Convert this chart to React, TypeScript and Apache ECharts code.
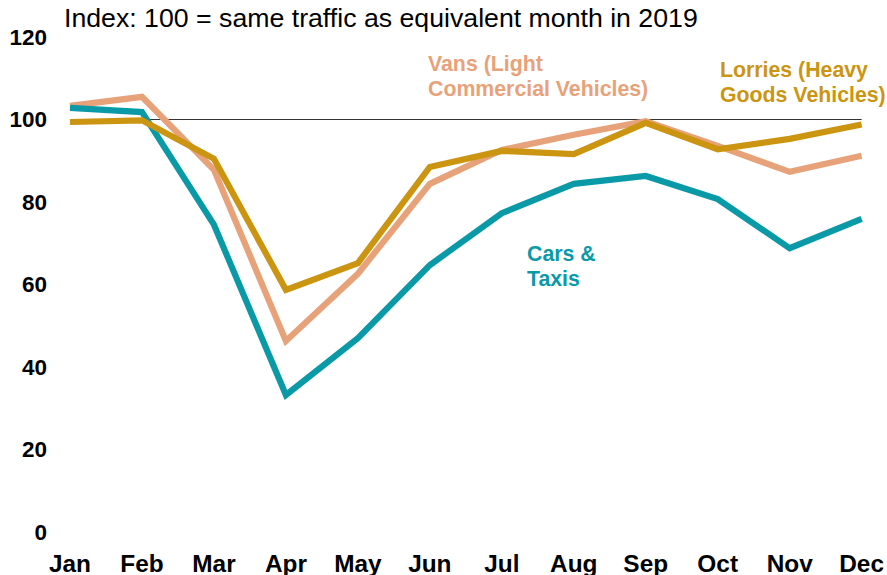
import React, { useEffect, useRef } from "react";
import * as echarts from "echarts";

const months = ["Jan", "Feb", "Mar", "Apr", "May", "Jun", "Jul", "Aug", "Sep", "Oct", "Nov", "Dec"];
const carsTaxis = [102.8, 101.8, 74.5, 33.2, 47, 64.7, 77.3, 84.4, 86.3, 80.7, 68.8, 75.9];
const vans = [103.3, 105.5, 87.8, 46.3, 62.6, 84.4, 92.6, 96.3, 99.6, 93.6, 87.3, 91.2];
const lorries = [99.4, 99.8, 90.5, 58.7, 65.2, 88.5, 92.4, 91.6, 99.2, 92.8, 95.3, 98.8];
const yTicks = [0, 20, 40, 60, 80, 100, 120];

const TEAL = "#0A9AA7";
const SALMON = "#E8A27A";
const GOLD = "#CC9511";
const FONT = "Liberation Sans, Arial, sans-serif";

export default function App() {
  const ref = useRef<HTMLDivElement>(null);
  useEffect(() => {
    if (!ref.current) return;
    const chart = echarts.init(ref.current, undefined, { renderer: "svg" });
    const lineSeries = (name: string, data: number[], color: string, z: number) => ({
      name,
      type: "line",
      data,
      symbol: "none",
      z,
      lineStyle: { color, width: 6.2, join: "miter" },
      itemStyle: { color },
    });
    chart.setOption({
      animation: false,
      textStyle: { fontFamily: FONT },
      grid: { left: 70, right: 20, top: 37, bottom: 43 },
      xAxis: {
        type: "category",
        data: months,
        boundaryGap: false,
        axisLine: { show: false },
        axisTick: { show: false },
        axisLabel: { fontSize: 24.4, fontWeight: "bold", color: "#000", margin: 19, fontFamily: FONT },
      },
      yAxis: {
        type: "value",
        min: yTicks[0],
        max: yTicks[yTicks.length - 1],
        interval: 20,
        axisLine: { show: false },
        axisTick: { show: false },
        splitLine: { show: false },
        axisLabel: { fontSize: 22.5, fontWeight: "bold", color: "#000", margin: 23, fontFamily: FONT },
      },
      graphic: [
        {
          type: "text",
          left: 64,
          top: 4,
          style: { text: "Index: 100 = same traffic as equivalent month in 2019", font: `26.7px ${FONT}`, fill: "#000" },
        },
        {
          type: "text",
          left: 428,
          top: 51,
          style: { text: "Vans (Light\nCommercial Vehicles)", font: `bold 21.3px ${FONT}`, fill: SALMON, lineHeight: 25 },
        },
        {
          type: "text",
          left: 720,
          top: 57,
          style: { text: "Lorries (Heavy\nGoods Vehicles)", font: `bold 21.3px ${FONT}`, fill: GOLD, lineHeight: 25 },
        },
        {
          type: "text",
          left: 527,
          top: 241,
          style: { text: "Cars &\nTaxis", font: `bold 21.3px ${FONT}`, fill: TEAL, lineHeight: 25 },
        },
      ],
      series: [
        {
          ...lineSeries("Cars & Taxis", carsTaxis, TEAL, 3),
          markLine: {
            silent: true,
            symbol: "none",
            label: { show: false },
            lineStyle: { color: "#333", width: 1, type: "solid" },
            data: [{ yAxis: 100 }],
            z: 1,
          },
        },
        lineSeries("Vans", vans, SALMON, 2),
        lineSeries("Lorries", lorries, GOLD, 4),
      ],
    });
    return () => chart.dispose();
  }, []);
  return <div ref={ref} style={{ position: "absolute", left: 0, top: 0, width: 887, height: 575 }} />;
}
